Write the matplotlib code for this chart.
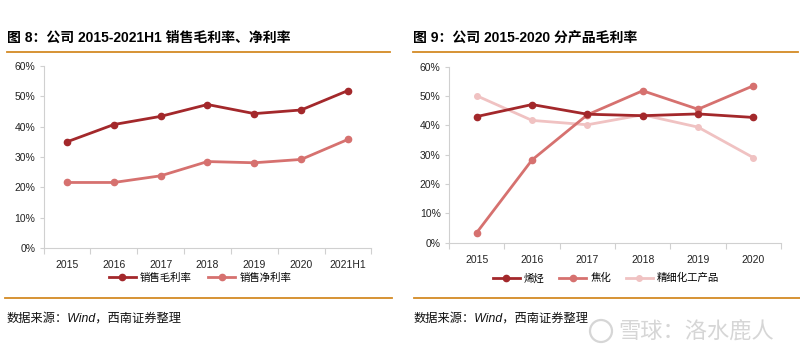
import matplotlib
matplotlib.use("Agg")
import matplotlib.pyplot as plt
from matplotlib.lines import Line2D
from matplotlib.patches import Ellipse
from matplotlib.ticker import FuncFormatter, FixedLocator

plt.rcParams['font.family'] = ['Liberation Sans', 'Noto Sans CJK SC', 'DejaVu Sans']

# ---- data ----
left_years = ['2015', '2016', '2017', '2018', '2019', '2020', '2021H1']
gross_margin = [35.0, 40.7, 43.4, 47.3, 44.3, 45.5, 51.9]
net_margin = [21.6, 21.6, 23.8, 28.5, 28.1, 29.2, 35.8]
left_names = ['销售毛利率', '销售净利率']

right_years = ['2015', '2016', '2017', '2018', '2019', '2020']
olefin = [43.0, 47.1, 43.8, 43.3, 43.9, 42.7]
coking = [3.4, 28.2, 43.6, 51.8, 45.5, 53.5]
fine_chem = [50.1, 41.7, 40.2, 43.6, 39.4, 29.0]
right_names = ['烯烃', '焦化', '精细化工产品']

yticks = [0, 10, 20, 30, 40, 50, 60]

title_left = '图 8：公司 2015-2021H1 销售毛利率、净利率'
title_right = '图 9：公司 2015-2020 分产品毛利率'
source = '数据来源：Wind，西南证券整理'

c_dark = '#A3282B'
c_mid = '#D6716F'
c_light = '#F0C2C2'
c_orange = '#D38A24'
c_axis = '#D0D0D0'

W, H = 800, 355
fig = plt.figure(figsize=(W / 100, H / 100), dpi=100)


def px_axes(x0, x1, ytop, ybot):
    return fig.add_axes([x0 / W, (H - ybot) / H, (x1 - x0) / W, (ybot - ytop) / H])


def style_axes(ax, cats):
    n = len(cats)
    ax.set_xlim(-0.5, n - 0.5)
    ax.set_ylim(0, 60)
    ax.set_yticks(yticks)
    ax.yaxis.set_major_formatter(FuncFormatter(lambda v, p: f'{int(v)}%'))
    ax.set_xticks(range(n))
    ax.set_xticklabels(cats)
    ax.xaxis.set_minor_locator(FixedLocator([i - 0.5 for i in range(n + 1)]))
    ax.tick_params(axis='x', which='major', length=0, pad=9, labelsize=7.5, colors='#222222')
    ax.tick_params(axis='x', which='minor', length=4, color=c_axis, width=0.8)
    ax.tick_params(axis='y', which='major', length=3, color=c_axis, width=0.8, pad=3,
                   labelsize=7.5, colors='#222222')
    for s in ['top', 'right']:
        ax.spines[s].set_visible(False)
    for s in ['left', 'bottom']:
        ax.spines[s].set_color(c_axis)
        ax.spines[s].set_linewidth(0.8)


# left chart
ax1 = px_axes(43.6, 371.4, 66, 248)
x1 = range(len(left_years))
ax1.plot(x1, gross_margin, color=c_dark, lw=2.0, marker='o', ms=4.5, label=left_names[0])
ax1.plot(x1, net_margin, color=c_mid, lw=2.0, marker='o', ms=4.5, label=left_names[1])
style_axes(ax1, left_years)
ax1.legend(loc='center', bbox_to_anchor=((200 - 43.6) / 327.8, (248 - 278) / 182),
           ncol=2, frameon=False, handlelength=2.6, columnspacing=1.6,
           handletextpad=0.4, prop={'family': ['Noto Sans CJK SC'], 'size': 7.5})

# right chart
ax2 = px_axes(449, 781, 66.7, 242.7)
x2 = range(len(right_years))
ax2.plot(x2, olefin, color=c_dark, lw=2.0, marker='o', ms=4.5, label=right_names[0], zorder=3)
ax2.plot(x2, coking, color=c_mid, lw=2.0, marker='o', ms=4.5, label=right_names[1], zorder=2)
ax2.plot(x2, fine_chem, color=c_light, lw=2.0, marker='o', ms=4, label=right_names[2], zorder=1)
style_axes(ax2, right_years)
ax2.legend(loc='center', bbox_to_anchor=((606 - 449) / 332, (242.7 - 278) / 176),
           ncol=3, frameon=False, handlelength=2.6, columnspacing=1.4,
           handletextpad=0.4, prop={'family': ['Noto Sans CJK SC'], 'size': 7.5})

# titles
fig.text(7 / W, (H - 38) / H, title_left, fontsize=10, fontweight='bold', va='center',
         ha='left', family=['Liberation Sans', 'Noto Sans CJK SC'])
fig.text(413 / W, (H - 38) / H, title_right, fontsize=10, fontweight='bold', va='center',
         ha='left', family=['Liberation Sans', 'Noto Sans CJK SC'])

# separator lines
for (xa, xb, y) in [(7, 390, 52), (413, 798, 52), (5, 392, 298), (414, 800, 298)]:
    fig.add_artist(Line2D([xa / W, xb / W], [(H - y) / H, (H - y) / H],
                          color=c_orange, lw=1.3, transform=fig.transFigure))

# source notes
for xs in (7, 414):
    fig.text(xs / W, (H - 319) / H, source, fontsize=8.8, style='italic', va='center',
             ha='left', family=['Liberation Sans', 'Noto Sans CJK SC'], color='#111111')

# watermark
fig.text(696 / W, (H - 331) / H, '雪球：洛水鹿人', fontsize=16, color='#D6D6D6',
         va='center', ha='center', family=['Noto Sans CJK SC'])
fig.add_artist(Ellipse((601 / W, (H - 331) / H), 22 / W, 22 / H,
                       transform=fig.transFigure, fill=False, ec='#D6D6D6', lw=1.6))

fig.savefig('out.png', dpi=100, facecolor='white')
